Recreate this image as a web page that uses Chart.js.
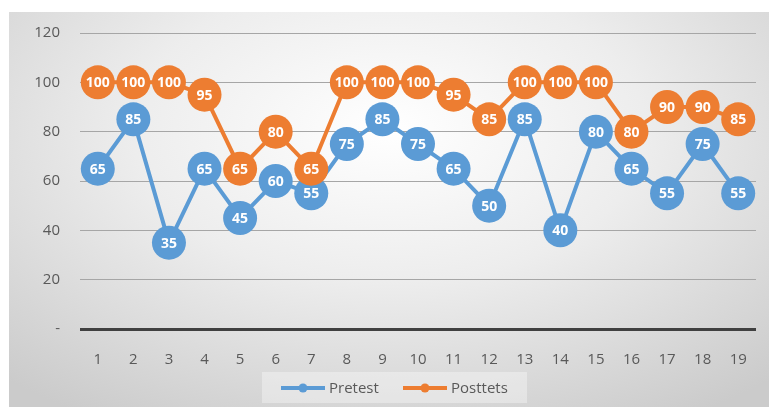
<!DOCTYPE html>
<html>
<head>
<meta charset="utf-8">
<script src="https://cdn.jsdelivr.net/npm/chart.js@4"></script>
<style>
  body { margin: 0; background: #fff; }
  #cadre {
    position: absolute; left: 9px; top: 12px; width: 760px; height: 395px;
    background: radial-gradient(ellipse 75% 85% at 50% 30%, #ffffff 0%, #ededed 45%, #cbcbcb 100%);
  }
  #myChart { position: absolute; left: 9px; top: 4px; }
</style>
</head>
<body>
<div id="cadre"></div>
<canvas id="myChart" width="764" height="403"></canvas>
<script>
// données du graphique
const eleves = ["1","2","3","4","5","6","7","8","9","10","11","12","13","14","15","16","17","18","19"];
const pretest = [65, 85, 35, 65, 45, 60, 55, 75, 85, 75, 65, 50, 85, 40, 80, 65, 55, 75, 55];
const posttest = [100, 100, 100, 95, 65, 80, 65, 100, 100, 100, 95, 85, 100, 100, 100, 80, 90, 90, 85];
const nomsSeries = ["Pretest", "Posttets"];

const bleu = "#5b9bd5";
const orange = "#ed7d31";

// étiquettes blanches au centre des points
const etiquettes = {
  id: "etiquettes",
  afterDatasetsDraw(chart) {
    const ctx = chart.ctx;
    ctx.save();
    ctx.font = "bold 14px 'Open Sans'";
    ctx.fillStyle = "#ffffff";
    ctx.textAlign = "center";
    ctx.textBaseline = "middle";
    [1, 0].forEach((i) => {
      const meta = chart.getDatasetMeta(i);
      meta.data.forEach((pt, j) => {
        ctx.fillText(chart.data.datasets[i].data[j], pt.x, pt.y + 1);
      });
    });
    ctx.restore();
  },
};

// légende dessinée à la main (ligne + point)
const legende = {
  id: "legende",
  afterDraw(chart) {
    const ctx = chart.ctx;
    ctx.save();
    ctx.fillStyle = "rgba(255,255,255,0.35)";
    ctx.fillRect(253, 368, 265, 31);
    const items = [
      { x: 272, couleur: bleu, texte: nomsSeries[0] },
      { x: 394, couleur: orange, texte: nomsSeries[1] },
    ];
    ctx.font = "15px 'Open Sans'";
    ctx.textBaseline = "middle";
    items.forEach((it) => {
      ctx.strokeStyle = it.couleur;
      ctx.lineWidth = 4;
      ctx.beginPath();
      ctx.moveTo(it.x, 384);
      ctx.lineTo(it.x + 44, 384);
      ctx.stroke();
      ctx.fillStyle = it.couleur;
      ctx.beginPath();
      ctx.arc(it.x + 22, 384, 4.5, 0, Math.PI * 2);
      ctx.fill();
      ctx.fillStyle = "#595959";
      ctx.fillText(it.texte, it.x + 48, 385);
    });
    ctx.restore();
  },
};

const chartData = {
  labels: eleves,
  datasets: [
    {
      label: nomsSeries[0],
      data: pretest,
      borderColor: bleu,
      backgroundColor: bleu,
      borderWidth: 4,
      pointRadius: 17,
      pointHoverRadius: 17,
      pointBorderWidth: 0,
      order: 1,
    },
    {
      label: nomsSeries[1],
      data: posttest,
      borderColor: orange,
      backgroundColor: orange,
      borderWidth: 4,
      pointRadius: 17,
      pointHoverRadius: 17,
      pointBorderWidth: 0,
      order: 0,
    },
  ],
};

const options = {
  responsive: false,
  maintainAspectRatio: false,
  animation: false,
  layout: { padding: { top: 12, right: 9, left: 0, bottom: 0 } },
  plugins: {
    legend: { display: false },
    tooltip: { enabled: false },
  },
  scales: {
    x: {
      offset: true,
      grid: { display: false },
      border: { display: false },
      ticks: { color: "#595959", font: { family: "Open Sans", size: 15 }, padding: 14, maxRotation: 0 },
      afterFit: (s) => { s.height = 78; },
    },
    y: {
      min: 0,
      max: 120,
      border: { display: false },
      grid: {
        drawTicks: false,
        color: (c) => (c.tick && c.tick.value === 0 ? "#404040" : "#a6a6a6"),
        lineWidth: (c) => (c.tick && c.tick.value === 0 ? 3 : 1),
      },
      ticks: {
        stepSize: 20,
        padding: 20,
        color: "#595959",
        font: { family: "Open Sans", size: 15 },
        callback: (v) => (v === 0 ? "-" : v),
      },
      afterFit: (s) => { s.width = 71; },
    },
  },
};

const ctx = document.getElementById("myChart").getContext("2d");
const myChart = new Chart(ctx, {
  type: "line",
  data: chartData,
  options: options,
  plugins: [etiquettes, legende],
});
</script>
</body>
</html>
